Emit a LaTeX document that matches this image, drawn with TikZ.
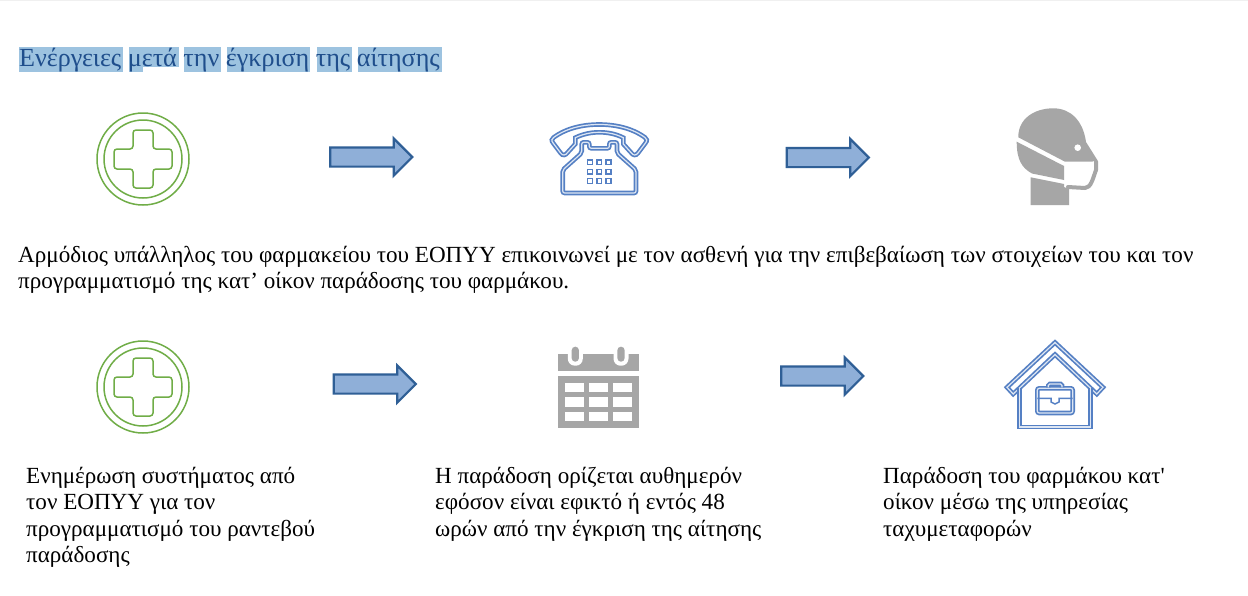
\documentclass[tikz,border=0pt]{standalone}
\usepackage{fontspec}
\setmainfont{Liberation Serif}
\usetikzlibrary{shapes.arrows}

\definecolor{titleblue}{HTML}{1F4E8C}
\definecolor{markblue}{HTML}{9DC3E0}
\definecolor{arrowfill}{HTML}{8FAFD8}
\definecolor{arrowline}{HTML}{2F5F96}
\definecolor{iconblue}{HTML}{5580C4}
\definecolor{icongreen}{HTML}{70AD47}
\definecolor{icongray}{HTML}{A6A6A6}

\tikzset{
    blockarrow/.style={single arrow, draw=arrowline, fill=arrowfill, line width=2.2pt,
        minimum height=82pt, inner xsep=0pt, inner ysep=8.5pt, single arrow head extend=9pt},
    bodytext/.style={anchor=north west, inner sep=0pt, align=left,
        font=\fontsize{23.1}{26.5}\selectfont},
    blueicon/.style={draw=iconblue, line width=1.7pt, double=iconblue!20, double distance=1.2pt},
    keybox/.style={draw=iconblue, line width=1.5pt},
    markbox/.style={fill=markblue, draw=none},
    crossline/.style={icongreen, line width=1.5pt}
}

\begin{document}
\begin{tikzpicture}[x=1pt, y=-1pt]
    \useasboundingbox (0, 0) rectangle (1248, 595);
    \fill[white] (0, 0) rectangle (1248, 595);
    \fill[black!6] (0, 0) rectangle (1248, 1);

    % title
    \fill[markbox] (18.7, 47.3) rectangle (122.7, 71.7);
    \fill[markbox] (129, 47.3) rectangle (143, 71.7);
    \fill[markbox] (143, 47.3) rectangle (179, 67);
    \fill[markbox] (184, 47.3) rectangle (220.7, 71.7);
    \fill[markbox] (227, 47.3) rectangle (310, 71.7);
    \fill[markbox] (317, 47.3) rectangle (352, 71.7);
    \fill[markbox] (358, 47.3) rectangle (441.7, 71.7);
    \node[anchor=base west, inner sep=0pt, text=titleblue, font=\fontsize{26.1}{28}\selectfont]
        (title) at (19, 66) {Ενέργειες μετά την έγκριση της αίτησης};

    % cross icons
    \foreach \y in {159, 387} {
        \draw[crossline] (143, \y) circle (46);
        \draw[crossline] (143, \y) circle (39);
        \draw[crossline, rounded corners=3pt, shift={(143, \y)}]
            (-10, -29) -- (10, -29) -- (10, -10) -- (29, -10) -- (29, 10) -- (10, 10)
            -- (10, 29) -- (-10, 29) -- (-10, 10) -- (-29, 10) -- (-29, -10) -- (-10, -10) -- cycle;
    }

    % arrows
    \node[blockarrow] (arrowa) at (366.5, 157) {};
    \node[blockarrow] (arrowb) at (823, 157.5) {};
    \node[blockarrow] (arrowc) at (370, 384) {};
    \node[blockarrow] (arrowd) at (817.5, 376) {};

    % telephone
    \draw[blueicon] (575.3, 137.7)
        .. controls (583, 134) and (591, 132.3) .. (599.3, 132.3)
        .. controls (608, 132.3) and (616, 134) .. (623.3, 137.7)
        -- (623.3, 144) -- (631, 152.5)
        .. controls (633, 155.5) and (636, 156) .. (638, 153)
        -- (645.5, 143)
        .. controls (647.5, 140.5) and (647, 139) .. (645, 137.5)
        .. controls (632, 128) and (615, 124.5) .. (599.3, 124.5)
        .. controls (583, 124.5) and (566.6, 128) .. (553.6, 137.5)
        .. controls (551.6, 139) and (551.1, 140.5) .. (553.1, 143)
        -- (560.6, 153)
        .. controls (562.6, 156) and (565.6, 155.5) .. (567.6, 152.5)
        -- (575.3, 144) -- cycle;
    \draw[blueicon, rounded corners=2pt] (562.7, 193) -- (562.7, 170) -- (581.7, 153) -- (581.7, 142.3)
        -- (589.3, 142.3) -- (589.3, 148.3) -- (609.3, 148.3) -- (609.3, 142.3) -- (617, 142.3)
        -- (617, 153) -- (636, 170) -- (636, 193) -- cycle;
    \foreach \x in {590, 599.3, 608.6}
        \foreach \y in {162.3, 171.7, 181}
            \draw[keybox] (\x-2.4, \y-2.4) rectangle (\x+2.4, \y+2.4);

    % head with mask
    \fill[icongray] (1018.3, 137.3) .. controls (1018, 119) and (1034, 108.3) .. (1053.3, 108.3)
        .. controls (1070, 108.3) and (1083, 120) .. (1086, 142)
        -- (1097.3, 160) -- (1092, 161.7) -- (1065, 161.7) -- cycle;
    \fill[white] (1077.7, 147.7) circle (3.3);
    \fill[icongray] (1016.7, 141.7) -- (1064, 166) -- (1064, 180) -- (1032, 173.5)
        .. controls (1022, 168) and (1016.7, 160) .. cycle;
    \fill[icongray] (1030.7, 177.3) -- (1064, 184) -- (1064, 187) -- (1069, 189) -- (1069, 205) -- (1030.7, 205) -- cycle;
    \draw[icongray, line width=4pt, line cap=round, line join=round] (1096, 161.5) -- (1096, 170)
        .. controls (1093, 178) and (1091, 188) .. (1085, 188) -- (1068, 187);

    % calendar
    \fill[icongray] (557.7, 354) rectangle (639.3, 370.7);
    \foreach \x in {575.3, 621} {
        \fill[white, rounded corners=7pt] (\x-7.5, 346) rectangle (\x+7.5, 365.7);
        \fill[icongray, rounded corners=3.5pt] (\x-3.6, 346.7) rectangle (\x+3.6, 361.7);
    }
    \fill[icongray] (557.7, 375.7) rectangle (639.3, 428.3);
    \foreach \x in {565, 589, 613}
        \foreach \y in {383, 397.3, 411.7}
            \fill[white] (\x, \y) rectangle (\x+19, \y+9.3);

    % house with briefcase
    \draw[blueicon] (1055, 342.5) -- (1103, 387.3) -- (1096.8, 394) -- (1055, 354.5) -- (1013.2, 394)
        -- (1007, 387.3) -- cycle;
    \draw[blueicon] (1019.3, 388) -- (1019.3, 427) -- (1090.7, 427) -- (1090.7, 388);
    \draw[blueicon, rounded corners=2pt] (1037.3, 388.3) rectangle (1072.7, 413);
    \draw[blueicon, rounded corners=1.5pt] (1048.3, 387.3) -- (1048.3, 384) -- (1062, 384) -- (1062, 387.3);
    \draw[keybox] (1037.3, 398.3) -- (1051, 398.3) -- (1051, 402) -- (1055, 404) -- (1059, 402)
        -- (1059, 398.3) -- (1072.7, 398.3);

    % texts
    \node[bodytext] (intro) at (18, 246) {Αρμόδιος υπάλληλος του φαρμακείου του ΕΟΠΥΥ επικοινωνεί με τον ασθενή για την επιβεβαίωση των στοιχείων του και τον\\
        προγραμματισμό της κατ’ οίκον παράδοσης του φαρμάκου.};
    \node[bodytext] (notea) at (26, 467) {Ενημέρωση συστήματος από\\
        τον ΕΟΠΥΥ για τον\\
        προγραμματισμό του ραντεβού\\
        παράδοσης};
    \node[bodytext] (noteb) at (435, 467) {Η παράδοση ορίζεται αυθημερόν\\
        εφόσον είναι εφικτό ή εντός 48\\
        ωρών από την έγκριση της αίτησης};
    \node[bodytext] (notec) at (883, 467) {Παράδοση του φαρμάκου κατ\textquotesingle\\
        οίκον μέσω της υπηρεσίας\\
        ταχυμεταφορών};
\end{tikzpicture}
\end{document}
